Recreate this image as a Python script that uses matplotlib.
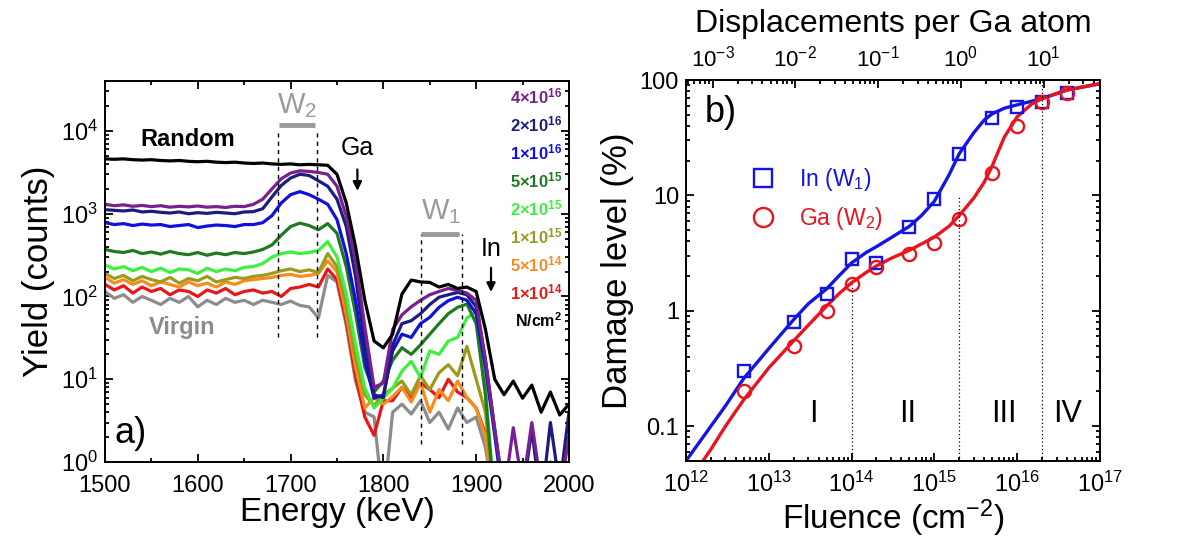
import numpy as np
import matplotlib
matplotlib.use("Agg")
import matplotlib.pyplot as plt
from matplotlib.ticker import (MultipleLocator, LogLocator, FixedLocator,
                               FixedFormatter, NullFormatter)

plt.rcParams.update({
    "font.family": ["Liberation Sans", "DejaVu Sans"],
    "mathtext.fontset": "custom",
    "mathtext.rm": "Liberation Sans",
    "mathtext.it": "Liberation Sans:italic",
    "mathtext.bf": "Liberation Sans:bold",
    "axes.linewidth": 1.4,
})

nan = np.nan

# ---- (a) RBS/C spectra, 10 keV channels -------------------------------------
energy = np.arange(1500, 2001, 10)

random_yield = [4600, 4550, 4600, 4500, 4450, 4500, 4400, 4350, 4400, 4300, 4250, 4300, 4200,
                4150, 4200, 4100, 4050, 4100, 4000, 3950, 4000, 3900, 3950, 3900, 3850,
                3000, 1350, 400, 90, 29, 24, 35, 107, 158, 150, 148, 130, 140, 125, 130, 115,
                40, 10, 6.5, 9.5, 5.9, 8.5, 4, 7, 3.7, 5]
y_4e16 = [1300, 1250, 1280, 1230, 1260, 1220, 1250, 1200, 1230, 1210, 1240, 1200, 1220, 1190,
          1230, 1220, 1300, 1500, 2000, 2650, 3100, 3300, 3250, 3150, 3000, 2150, 930, 275, 43,
          8, 9, 40, 60, 75, 90, 105, 115, 125, 118, 110, 90, 17, 2.5, 0.4, 2.6, 0.5, 3, 0.5,
          1, 0.4, 2]
y_2e16 = [1120, 1100, 1080, 1110, 1050, 1070, 1040, 1020, 1050, 1000, 1030, 1010, 1040, 1020,
          1000, 1050, 1060, 1150, 1600, 2200, 2700, 3000, 2900, 2500, 2150, 1500, 700, 175, 26,
          6.5, 6, 26, 47, 51, 62, 80, 98, 105, 112, 105, 75, 17, 2.5, 0.4, 0.3, 0.4, 2.5, 0.3,
          3, 0.5, 4]
y_1e16 = [780, 740, 760, 720, 750, 730, 740, 700, 720, 740, 680, 710, 730, 720, 700, 740,
          740, 780, 950, 1350, 1700, 1850, 1700, 1500, 1300, 850, 330, 90, 17, 5.9, 6.5, 22,
          35, 32, 47, 56, 74, 89, 98, 90, 62, 14, 2.1, 0.3, nan, nan, nan, nan, nan, nan, nan]
y_5e15 = [370, 350, 340, 360, 330, 345, 325, 350, 330, 320, 340, 315, 335, 320, 340, 330,
          345, 370, 420, 550, 700, 770, 720, 640, 760, 580, 230, 62, 14, 7, 9.5, 17, 24, 20,
          26, 35, 47, 62, 74, 81, 47, 6.5, 0.3, nan, nan, nan, nan, nan, nan, nan, nan]
y_2e15 = [240, 215, 230, 205, 225, 200, 220, 195, 215, 210, 190, 220, 200, 215, 205, 225,
          230, 250, 300, 330, 345, 330, 340, 360, 460, 300, 107, 26, 7.8, 4.5, 5.9, 7.8, 12.5,
          16.5, 10.5, 22, 20, 29, 32, 55, 65, 8, 0.3, nan, nan, nan, nan, nan, nan, nan, nan]
y_1e15 = [190, 165, 180, 155, 175, 160, 150, 170, 145, 165, 155, 175, 150, 160, 170, 165,
          175, 180, 190, 205, 215, 200, 210, 195, 330, 230, 80, 18, 6.5, 4.8, 6.5, 7.8, 9.5,
          6.5, 11, 7.5, 12, 15, 11, 25, 10, 4, 0.3, nan, nan, nan, nan, nan, nan, nan, nan]
y_5e14 = [170, 145, 160, 140, 155, 135, 150, 140, 130, 150, 135, 145, 130, 150, 140, 155,
          160, 165, 170, 180, 185, 175, 180, 190, 270, 200, 60, 14, 4.5, 6, 5, 6.2, 8, 5.3, 9,
          4, 7.5, 5.5, 9.5, 6, 4.5, 2, 0.3, nan, nan, nan, nan, nan, nan, nan, nan]
y_1e14 = [140, 120, 135, 110, 130, 115, 125, 105, 120, 115, 100, 120, 110, 125, 105, 115,
          120, 110, 115, 100, 125, 130, 140, 130, 215, 160, 50, 11, 3.5, 2.1, 5.5, 5.5, 8, 6,
          9, 7.5, 6, 10, 7, 6, 4.5, 2.2, 0.3, nan, nan, nan, nan, nan, nan, nan, nan]
virgin_yield = [115, 95, 105, 85, 100, 90, 80, 95, 85, 100, 75, 90, 80, 95, 85, 90,
                80, 90, 85, 80, 88, 78, 75, 55, 180, 150, 45, 9.5, 4, 3.5, 0.3, 4, 5, 3.8,
                5.5, 3, 4, 2.5, 4.5, 3, 3.5, 1.5, 0.3, nan, nan, nan, nan, nan, nan, nan, nan]

fluence_labels = [r"4×10$^{\mathbf{16}}$", r"2×10$^{\mathbf{16}}$", r"1×10$^{\mathbf{16}}$",
                  r"5×10$^{\mathbf{15}}$", r"2×10$^{\mathbf{15}}$", r"1×10$^{\mathbf{15}}$",
                  r"5×10$^{\mathbf{14}}$", r"1×10$^{\mathbf{14}}$"]
fluence_colors = ["#7a1f8f", "#1c1c80", "#1010e0", "#1f7a1f",
                  "#3cf03c", "#9c9a1e", "#f58c1e", "#e81818"]
spectra = [y_4e16, y_2e16, y_1e16, y_5e15, y_2e15, y_1e15, y_5e14, y_1e14]

# ---- (b) damage build-up ----------------------------------------------------
fluence_pts = [5e12, 2e13, 5e13, 1e14, 2e14, 5e14, 1e15, 2e15, 5e15, 1e16, 2e16, 4e16]
damage_in = [0.30, 0.80, 1.4, 2.8, 2.6, 5.3, 9.3, 23, 47, 58, 65, 78]
damage_ga = [0.20, 0.50, 1.0, 1.7, 2.4, 3.1, 3.9, 6.2, 15.5, 40, 65, 78]

fit_fluence_in = [1e12, 2e12, 3e12, 5e12, 1e13, 2e13, 3e13, 5e13, 7e13, 1e14, 1.5e14, 2e14,
                  3e14, 5e14, 7e14, 1e15, 1.5e15, 2e15, 3e15, 4e15, 5e15, 7e15, 1e16, 2e16,
                  4e16, 1e17]
fit_in = [0.05, 0.10, 0.15, 0.26, 0.47, 0.84, 1.15, 1.55, 2.0, 2.6, 3.2, 3.6, 4.3, 5.4, 6.7,
          8.9, 15, 23, 35, 45, 51, 57, 61, 69, 82, 93]
fit_fluence_ga = [1.6e12, 2e12, 3e12, 5e12, 1e13, 2e13, 3e13, 5e13, 7e13, 1e14, 1.5e14, 2e14,
                  3e14, 5e14, 7e14, 1e15, 1.5e15, 2e15, 3e15, 4e15, 5e15, 7e15, 1e16, 1.5e16,
                  2e16, 4e16, 1e17]
fit_ga = [0.05, 0.063, 0.10, 0.17, 0.32, 0.55, 0.75, 1.1, 1.4, 1.75, 2.15, 2.45, 2.85, 3.35,
          3.8, 4.35, 5.4, 6.7, 9.5, 13, 18, 32, 48, 62, 69, 82, 93]

regime_bounds = [1e14, 2e15, 2e16]
regime_tops = [1.7, 9.8, 100]
regime_names = ["I", "II", "III", "IV"]
regime_x = [3.5e13, 4.8e14, 6.9e15, 4.1e16]

dpa_ticks = [1e-3, 1e-2, 1e-1, 1e0, 1e1]
dpa_labels = [r"10$^{-3}$", r"10$^{-2}$", r"10$^{-1}$", r"10$^{0}$", r"10$^{1}$"]
DPA_PER_FLUENCE = 1 / 2.1e15

BLUE = "#1414e6"
RED = "#e8141e"
GREY = "#8c8c8c"
TICK_FS = 17

fig = plt.figure(figsize=(11.77, 5.41), dpi=100)

# ============================ panel a ========================================
ax1 = fig.add_axes([0.0892, 0.146, 0.3942, 0.704])
ax1.plot(energy, virgin_yield, color=GREY, lw=2.3)
for ys, col in reversed(list(zip(spectra, fluence_colors))):
    ax1.plot(energy, ys, color=col, lw=2.3)
ax1.plot(energy, random_yield, color="black", lw=2.3)

ax1.set_yscale("log")
ax1.set_xlim(1500, 2000)
ax1.set_ylim(1, 4e4)
ax1.xaxis.set_major_locator(MultipleLocator(100))
ax1.xaxis.set_minor_locator(MultipleLocator(50))
ax1.yaxis.set_major_locator(LogLocator(base=10, numticks=10))
ax1.yaxis.set_minor_locator(LogLocator(base=10, subs=np.arange(2, 10), numticks=10))
ax1.yaxis.set_minor_formatter(NullFormatter())
ax1.tick_params(which="both", direction="in", top=True, right=True, labelsize=TICK_FS, width=1.3)
ax1.tick_params(which="major", length=6)
ax1.tick_params(which="minor", length=3)
ax1.tick_params(axis="x", pad=9)
ax1.tick_params(axis="y", pad=5)
ax1.set_xlabel("Energy (keV)", fontsize=24, labelpad=0)
ax1.set_ylabel("Yield (counts)", fontsize=25, labelpad=4)

# integration windows
for e in (1686, 1729):
    ax1.plot([e, e], [32, 1.05e4], ls=(0, (3, 3)), color="black", lw=1.0)
for e in (1841, 1885):
    ax1.plot([e, e], [1.67, 575], ls=(0, (3, 3)), color="black", lw=1.0)
ax1.plot([1687, 1726], [1.17e4, 1.17e4], color="#9a9a9a", lw=3.5, solid_capstyle="butt")
ax1.plot([1841, 1881], [575, 575], color="#9a9a9a", lw=3.5, solid_capstyle="butt")
ax1.text(1707, 2.0e4, r"W$_2$", color="#9a9a9a", fontsize=21, ha="center", va="center")
ax1.text(1862, 1.07e3, r"W$_1$", color="#9a9a9a", fontsize=21, ha="center", va="center")

ax1.text(1589, 7.9e3, "Random", fontsize=17, fontweight="bold", ha="center", va="center")
ax1.text(1583, 42, "Virgin", fontsize=17, fontweight="bold", color=GREY,
         ha="center", va="center")
ax1.text(1772, 6.3e3, "Ga", fontsize=18, ha="center", va="center")
ax1.annotate("", xy=(1772, 1.75e3), xytext=(1772, 3.7e3),
             arrowprops=dict(arrowstyle="-|>", color="black", lw=1.6, mutation_scale=13))
ax1.text(1916, 380, "In", fontsize=18, ha="center", va="center")
ax1.annotate("", xy=(1916, 105), xytext=(1916, 240),
             arrowprops=dict(arrowstyle="-|>", color="black", lw=1.6, mutation_scale=13))
ax1.text(1528, 2.2, "a)", fontsize=26, ha="center", va="center")

for i, (lab, col) in enumerate(zip(fluence_labels, fluence_colors)):
    ax1.text(0.985, 0.960 - i * 0.0735, lab, color=col, fontsize=12, fontweight="bold",
             ha="right", va="center", transform=ax1.transAxes)
ax1.text(0.985, 0.960 - 8 * 0.0735, r"N/cm$^{\mathbf{2}}$", fontsize=11.5, fontweight="bold",
         ha="right", va="center", transform=ax1.transAxes)

# ============================ panel b ========================================
ax2 = fig.add_axes([0.5828, 0.148, 0.3517, 0.704])
ax2.plot(fit_fluence_in, fit_in, color=BLUE, lw=2.4)
ax2.plot(fit_fluence_ga, fit_ga, color=RED, lw=2.4)
sq, = ax2.plot(fluence_pts, damage_in, ls="none", marker="s", ms=8.5, mfc="none",
               mec=BLUE, mew=1.7, label=r"In (W$_1$)")
ci, = ax2.plot(fluence_pts, damage_ga, ls="none", marker="o", ms=9.5, mfc="none",
               mec=RED, mew=1.7, label=r"Ga (W$_2$)")

for xb, top in zip(regime_bounds, regime_tops):
    ax2.plot([xb, xb], [0.05, top], ls=(0, (1, 2)), color="black", lw=0.9)
for name, xr in zip(regime_names, regime_x):
    ax2.text(xr, 0.127, name, fontsize=22, ha="center", va="center")

ax2.set_xscale("log")
ax2.set_yscale("log")
ax2.set_xlim(1e12, 1e17)
ax2.set_ylim(0.05, 100)
ax2.xaxis.set_major_locator(LogLocator(base=10, numticks=10))
ax2.xaxis.set_minor_locator(LogLocator(base=10, subs=np.arange(2, 10), numticks=10))
ax2.xaxis.set_minor_formatter(NullFormatter())
ax2.yaxis.set_major_locator(FixedLocator([0.1, 1, 10, 100]))
ax2.yaxis.set_major_formatter(FixedFormatter(["0.1", "1", "10", "100"]))
ax2.yaxis.set_minor_locator(LogLocator(base=10, subs=np.arange(2, 10), numticks=10))
ax2.yaxis.set_minor_formatter(NullFormatter())
ax2.tick_params(which="both", direction="in", right=True, top=False, labelsize=TICK_FS, width=1.3)
ax2.tick_params(which="major", length=6)
ax2.tick_params(which="minor", length=3)
ax2.tick_params(axis="x", pad=8)
ax2.tick_params(axis="y", pad=5)
ax2.set_xlabel(r"Fluence (cm$^{-2}$)", fontsize=24, labelpad=0)
ax2.set_ylabel("Damage level (%)", fontsize=25, labelpad=4)

top = ax2.secondary_xaxis("top", functions=(lambda f: f * DPA_PER_FLUENCE,
                                            lambda d: d / DPA_PER_FLUENCE))
top.xaxis.set_major_locator(FixedLocator(dpa_ticks))
top.xaxis.set_major_formatter(FixedFormatter(dpa_labels))
top.xaxis.set_minor_locator(LogLocator(base=10, subs=np.arange(2, 10), numticks=10))
top.xaxis.set_minor_formatter(NullFormatter())
top.tick_params(which="both", direction="in", labelsize=16, width=1.3, pad=6)
top.tick_params(which="major", length=6)
top.tick_params(which="minor", length=3)
top.set_xlabel("Displacements per Ga atom", fontsize=23, labelpad=10)

ax2.legend(handles=[sq, ci], loc="upper left", bbox_to_anchor=(0.158, 0.775),
           frameon=False, fontsize=16.5, markerscale=1.45, handlelength=1.0,
           handletextpad=1.1, labelspacing=0.55, borderpad=0, borderaxespad=0,
           labelcolor=[BLUE, RED])
ax2.text(0.045, 0.915, "b)", fontsize=26, ha="left", va="center", transform=ax2.transAxes)

fig.savefig("out.png", dpi=100)
